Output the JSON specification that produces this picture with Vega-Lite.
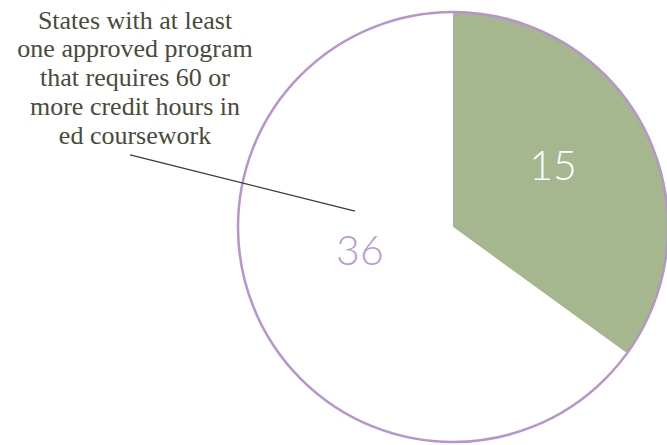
{
  "$schema": "https://vega.github.io/schema/vega-lite/v6.json",
  "width": 430,
  "height": 430,
  "autosize": {"type": "none"},
  "padding": {"left": 238, "top": 12, "right": 0, "bottom": 3},
  "background": "white",
  "view": {"stroke": null},
  "datasets": {
    "slices": [
      {"group": "Other states", "label": "15", "angle": 126, "order": 1, "lx": 0.465, "ly": 0.274},
      {"group": "States with at least one approved program that requires 60 or more credit hours in ed coursework", "label": "36", "angle": 234, "order": 2, "lx": -0.433, "ly": -0.121}
    ],
    "outline": [{"angle": 360}],
    "leader": [{"x": -1.502, "y": 0.335, "x2": -0.456, "y2": 0.074}],
    "note": [{"x": -1.479, "y": 1.02, "text": ["States with at least", "one approved program", "that requires 60 or", "more credit hours in", "ed coursework"]}]
  },
  "layer": [
    {
      "data": {"name": "slices"},
      "mark": {"type": "arc", "stroke": null},
      "encoding": {
        "theta": {"field": "angle", "type": "quantitative", "stack": true},
        "order": {"field": "order", "type": "quantitative"},
        "color": {"field": "group", "type": "nominal", "legend": null,
          "scale": {"domain": ["Other states", "States with at least one approved program that requires 60 or more credit hours in ed coursework"], "range": ["#a6b68e", "#ffffff"]}}
      }
    },
    {
      "data": {"name": "outline"},
      "mark": {"type": "arc", "filled": false, "stroke": "#b595cc", "strokeWidth": 2.5},
      "encoding": {
        "theta": {"field": "angle", "type": "quantitative"}
      }
    },
    {
      "data": {"name": "leader"},
      "mark": {"type": "rule", "color": "#3b3b2c", "strokeWidth": 1.3},
      "encoding": {
        "x": {"field": "x", "type": "quantitative", "axis": null, "scale": {"domain": [-1, 1], "nice": false, "zero": false}},
        "y": {"field": "y", "type": "quantitative", "axis": null, "scale": {"domain": [-1, 1], "nice": false, "zero": false}},
        "x2": {"field": "x2"},
        "y2": {"field": "y2"}
      }
    },
    {
      "data": {"name": "note"},
      "mark": {"type": "text", "font": "Liberation Serif", "fontSize": 26, "lineHeight": 28.8, "align": "center", "baseline": "top", "color": "#4a4a3b"},
      "encoding": {
        "x": {"field": "x", "type": "quantitative", "axis": null, "scale": {"domain": [-1, 1], "nice": false, "zero": false}},
        "y": {"field": "y", "type": "quantitative", "axis": null, "scale": {"domain": [-1, 1], "nice": false, "zero": false}},
        "text": {"field": "text"}
      }
    },
    {
      "data": {"name": "slices"},
      "transform": [{"filter": "datum.order == 1"}],
      "mark": {"type": "text", "font": "Lato", "fontWeight": 300, "fontSize": 41, "align": "center", "baseline": "middle", "color": "#ffffff"},
      "encoding": {
        "x": {"field": "lx", "type": "quantitative", "axis": null, "scale": {"domain": [-1, 1], "nice": false, "zero": false}},
        "y": {"field": "ly", "type": "quantitative", "axis": null, "scale": {"domain": [-1, 1], "nice": false, "zero": false}},
        "text": {"field": "label"}
      }
    },
    {
      "data": {"name": "slices"},
      "transform": [{"filter": "datum.order == 2"}],
      "mark": {"type": "text", "font": "Lato", "fontWeight": 300, "fontSize": 41, "align": "center", "baseline": "middle", "color": "#b99bd3"},
      "encoding": {
        "x": {"field": "lx", "type": "quantitative", "axis": null, "scale": {"domain": [-1, 1], "nice": false, "zero": false}},
        "y": {"field": "ly", "type": "quantitative", "axis": null, "scale": {"domain": [-1, 1], "nice": false, "zero": false}},
        "text": {"field": "label"}
      }
    }
  ]
}
